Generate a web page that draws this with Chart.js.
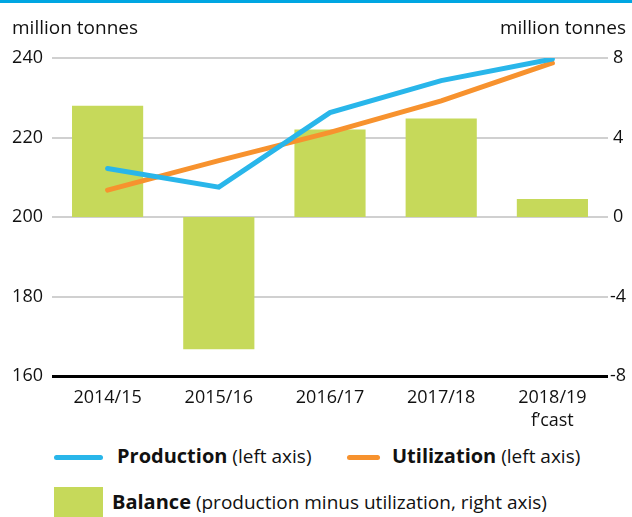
<!DOCTYPE html>
<html>
<head>
<meta charset="utf-8">
<script src="https://cdn.jsdelivr.net/npm/chart.js@4.4.1/dist/chart.umd.min.js"></script>
<style>
  html, body { margin: 0; padding: 0; background: #fff; }
  body { width: 632px; height: 517px; position: relative; overflow: hidden;
         font-family: "Open Sans", "Noto Sans", sans-serif; color: #111; }
  .topbar { position: absolute; left: 0; top: 0; width: 632px; height: 3px; background: #00a6e2; }
  .unit { position: absolute; top: 14px; font-size: 19px; }
  #wrap { position: absolute; left: 0; top: 0; width: 632px; height: 435px; }
  .leg { position: absolute; font-size: 19px; white-space: nowrap; }
  .leg b { font-size: 20px; }
  .sw-line { position: absolute; height: 5px; border-radius: 3px; }
  .sw-box { position: absolute; background: #c6d95a; }
</style>
</head>
<body>
<div class="topbar"></div>
<div id="wrap"><canvas id="chart"></canvas></div>
<div class="unit" style="left:12px">million tonnes</div>
<div class="unit" style="right:6px">million tonnes</div>

<div class="sw-line" style="left:54px;top:455px;width:49px;background:#29b6ea"></div>
<div class="leg" style="left:117px;top:442px"><b>Production</b> (left axis)</div>
<div class="sw-line" style="left:347px;top:455px;width:33px;background:#f7922e"></div>
<div class="leg" style="left:392px;top:442px"><b>Utilization</b> (left axis)</div>
<div class="sw-box" style="left:54px;top:487px;width:49px;height:30px"></div>
<div class="leg" style="left:112px;top:488px"><b>Balance</b> (production minus utilization, right axis)</div>

<script>
// seasons and values, million tonnes
const seasons = ['2014/15', '2015/16', '2016/17', '2017/18', ['2018/19', 'f\u2019cast']];
const production = [212.2, 207.5, 226.25, 234.3, 239.75];
const utilization = [206.75, 214.2, 221.3, 229.2, 238.75];
const balance = [5.6, -6.65, 4.4, 4.95, 0.9];

const leftTicks = [160, 180, 200, 220, 240];
const rightTicks = [-8, -4, 0, 4, 8];

const tickFont = { family: '"Open Sans", "Noto Sans", sans-serif', size: 18, lineHeight: 1.25 };

new Chart(document.getElementById('chart'), {
    data: {
        labels: seasons,
        datasets: [
            {
                type: 'line',
                label: 'Production',
                data: production,
                yAxisID: 'y',
                borderColor: '#29b6ea',
                borderWidth: 5,
                borderCapStyle: 'round',
                pointRadius: 0,
                tension: 0,
                order: 1
            },
            {
                type: 'line',
                label: 'Utilization',
                data: utilization,
                yAxisID: 'y',
                borderColor: '#f7922e',
                borderWidth: 5,
                borderCapStyle: 'round',
                pointRadius: 0,
                tension: 0,
                order: 2
            },
            {
                type: 'bar',
                label: 'Balance',
                data: balance,
                yAxisID: 'y1',
                backgroundColor: '#c6d95a',
                categoryPercentage: 0.8,
                barPercentage: 0.8,
                order: 3
            }
        ]
    },
    options: {
        responsive: true,
        maintainAspectRatio: false,
        animation: false,
        layout: { padding: { top: 58, left: 0, right: 0, bottom: 0 } },
        plugins: { legend: { display: false }, tooltip: { enabled: false } },
        scales: {
            x: {
                grid: { display: false },
                border: { display: false },
                ticks: { color: '#111', font: tickFont, padding: 3, maxRotation: 0 }
            },
            y: {
                position: 'left',
                min: 160,
                max: 240,
                afterBuildTicks: s => { s.ticks = leftTicks.map(v => ({ value: v })); },
                afterFit: s => { s.width = 52; },
                grid: {
                    // the 160 line doubles as the black baseline
                    color: c => c.tick && c.tick.value === 160 ? '#000' : '#d0d0d0',
                    lineWidth: c => c.tick && c.tick.value === 160 ? 3 : 2,
                    drawTicks: false
                },
                border: { display: false },
                ticks: { color: '#111', font: tickFont, padding: 9 }
            },
            y1: {
                position: 'right',
                min: -8,
                max: 8,
                afterBuildTicks: s => { s.ticks = rightTicks.map(v => ({ value: v })); },
                afterFit: s => { s.width = 24; },
                grid: { display: false, drawTicks: false },
                border: { display: false },
                ticks: { color: '#111', font: tickFont, padding: 2, crossAlign: 'center' }
            }
        }
    }
});
</script>
</body>
</html>
